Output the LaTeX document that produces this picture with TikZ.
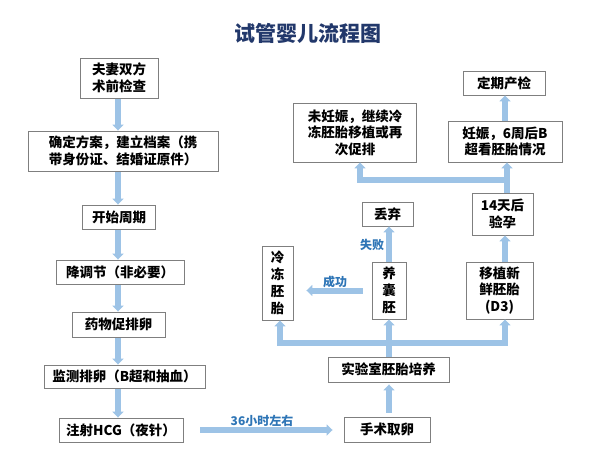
\documentclass[tikz,border=0pt]{standalone}
\usepackage{fontspec}
\setmainfont{Noto Sans CJK SC}
\usetikzlibrary{arrows.meta,shadows}
\definecolor{arr}{HTML}{9DC3E6}
\definecolor{lbl}{HTML}{2E75B6}
\definecolor{ttl}{HTML}{22386B}
\definecolor{bord}{HTML}{7F7F7F}
\begin{document}
\begin{tikzpicture}[x=1pt,y=-1pt,
  box/.style={draw=bord, line width=0.9pt, fill=white, inner sep=0pt, align=center,
    font=\bfseries\fontsize{13.5}{16.5}\selectfont,
    drop shadow={shadow xshift=0.8pt, shadow yshift=-0.8pt, opacity=0.35, fill=gray}},
  vbox/.style={box, font=\bfseries\fontsize{13.5}{17}\selectfont},
  flow/.style={draw=arr, line width=6pt, -{Triangle[width=11pt,length=6pt]}},
  link/.style={draw=arr, line width=5.5pt},
  lab/.style={text=lbl, font=\bfseries\fontsize{12}{14}\selectfont, inner sep=0pt}]
\useasboundingbox (0,0) rectangle (600,474);
\fill[white] (0,0) rectangle (600,474);
\node[text=ttl, font=\bfseries\fontsize{21}{24}\selectfont] (title) at (308,33) {试管婴儿流程图};

% left column
\node[box, minimum width=78pt, minimum height=40pt] (n1) at (119,78) {夫妻双方\\术前检查};
\node[box, minimum width=190pt, minimum height=40pt] (n2) at (123,151) {确定方案，建立档案（携\\带身份证、结婚证原件）};
\node[box, minimum width=73pt, minimum height=24pt] (n3) at (119,217) {开始周期};
\node[box, minimum width=128pt, minimum height=24pt] (n4) at (120,272) {降调节（非必要）};
\node[box, minimum width=93pt, minimum height=25pt] (n5) at (118.5,324.5) {药物促排卵};
\node[box, minimum width=161pt, minimum height=23pt] (n6) at (124.5,376.5) {监测排卵（B超和抽血）};
\node[box, minimum width=124pt, minimum height=24pt] (n7) at (121,430) {注射HCG（夜针）};

% right part
\node[box, minimum width=86pt, minimum height=25pt] (n8) at (387,429.5) {手术取卵};
\node[box, minimum width=121pt, minimum height=25pt] (n9) at (388.5,369.5) {实验室胚胎培养};
\node[vbox, minimum width=31pt, minimum height=74pt] (n10) at (277.5,283) {冷\\冻\\胚\\胎};
\node[vbox, minimum width=34pt, minimum height=57pt] (n11) at (389,290.5) {养\\囊\\胚};
\node[box, minimum width=67pt, minimum height=57pt] (n12) at (499.5,290.5) {移植新\\鲜胚胎\\(D3)};
\node[box, minimum width=51pt, minimum height=24pt] (n13) at (387.5,214) {丢弃};
\node[box, minimum width=61pt, minimum height=42pt] (n14) at (502.5,214) {14天后\\验孕};
\node[box, minimum width=123pt, minimum height=59pt] (n15) at (355,132.5) {未妊娠，继续冷\\冻胚胎移植或再\\次促排};
\node[box, minimum width=114pt, minimum height=41pt] (n16) at (505,141.5) {妊娠，6周后B\\超看胚胎情况};
\node[box, minimum width=82pt, minimum height=24pt] (n17) at (504,83) {定期产检};

% junction coordinates
\coordinate (jl) at (280,343);
\coordinate (jm) at (389,343);
\coordinate (jr) at (505,343);
\coordinate (tl) at (360,180);
\coordinate (tr) at (507,180);

% left column arrows
\foreach \a/\b in {n1/n2,n2/n3,n3/n4,n4/n5,n5/n6,n6/n7}{
  \draw[flow, shorten <=1pt] (118,0 |- \a.south) -- (118,0 |- \b.north);
}
% 36h arrow
\draw[flow, shorten <=17pt, shorten >=11pt] (n7.east) -- (n7.east -| n8.west);
\node[lab] (l36) at (262,421) {36小时左右};

% culture
\draw[flow, shorten <=4pt, shorten >=2pt] (n8.north -| jm) -- (n9.south -| jm);
\draw[link] (jl) -- (jr);
\draw[link] (n9.north -| jm) -- (jm);
\draw[flow] (jm) -- (n11.south -| jm);
\draw[flow] ([xshift=-2.75pt]jl) -- ++(2.75,0) -- (n10.south -| jl);
\draw[flow] ([xshift=2.75pt]jr) -- ++(-2.75,0) -- (n12.south -| jr);

% success / failure
\draw[flow, shorten <=9pt, shorten >=13pt] (n11.west) -- (n10.east |- n11.west);
\node[lab] (lok) at (335,282) {成功};
\draw[flow] (n11.north -| jm) -- (n13.south -| jm);
\node[lab] (lfail) at (372,245) {失败};

% transfer
\draw[flow] (n12.north -| jr) -- (n14.south -| jr);
\draw[link] (n14.north -| tr) -- (tr);
\draw[link] ([xshift=2.75pt]tr) -- ([xshift=-2.75pt]tl);
\draw[flow] ([yshift=2.75pt]tl) -- (n15.south -| tl);
\draw[flow] (tr) -- (n16.south -| tr);
\draw[flow] (n16.north -| jr) -- (n17.south -| jr);
\end{tikzpicture}
\end{document}
